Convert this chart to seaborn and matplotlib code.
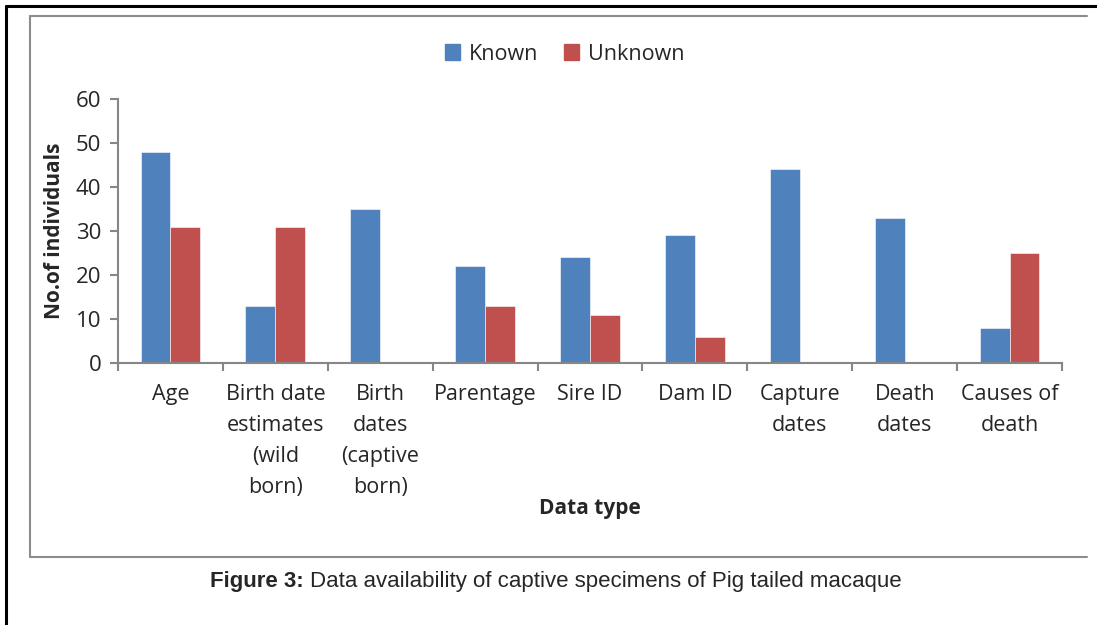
import matplotlib
matplotlib.use("Agg")
import matplotlib.pyplot as plt
from matplotlib.lines import Line2D
import seaborn as sns
import pandas as pd

categories = ["Age", "Birth date\nestimates\n(wild\nborn)", "Birth\ndates\n(captive\nborn)",
              "Parentage", "Sire ID", "Dam ID", "Capture\ndates", "Death\ndates",
              "Causes of\ndeath"]
known = [48, 13, 35, 22, 24, 29, 44, 33, 8]
unknown = [31, 31, 0, 13, 11, 6, 0, 0, 25]
series = ["Known", "Unknown"]
colors = ["#4F81BD", "#C0504D"]

df = pd.DataFrame({
    "category": categories * 2,
    "value": known + unknown,
    "series": [series[0]] * len(categories) + [series[1]] * len(categories),
})

sns.set_theme(style="white")
plt.rcParams["font.family"] = ["Open Sans", "DejaVu Sans"]

fig = plt.figure(figsize=(10.97, 6.25), dpi=100)
ax = fig.add_axes([118 / 1097, 1 - 363 / 625, (1062 - 118) / 1097, (363 - 99) / 625])

sns.barplot(data=df, x="category", y="value", hue="series", palette=colors,
            width=0.57, gap=0, ax=ax, legend=False, saturation=1,
            edgecolor="white", linewidth=0.4)

axis_grey = "#868686"
ax.set_xlim(-0.5, len(categories) - 0.5)
ax.set_ylim(0, 60)
ax.set_yticks(range(0, 61, 10))
ax.set_xticks(range(len(categories)))
ax.set_xticklabels(categories, fontsize=15.5, linespacing=1.63, va="top")
ax.set_xticks([i - 0.5 for i in range(len(categories) + 1)], minor=True)
ax.tick_params(axis="x", which="major", length=0, pad=15)
ax.tick_params(axis="x", which="minor", length=6, width=1.5, color=axis_grey, direction="out")
ax.tick_params(axis="y", length=6, width=1.5, color=axis_grey, direction="out", labelsize=16, pad=6)
ax.tick_params(bottom=True, left=True, which="both")

for side in ["top", "right"]:
    ax.spines[side].set_visible(False)
for side in ["left", "bottom"]:
    ax.spines[side].set_color(axis_grey)
    ax.spines[side].set_linewidth(1.5)

ax.set_xlabel("Data type", fontsize=15, fontweight="bold")
ax.set_ylabel("No.of individuals", fontsize=15, fontweight="bold", labelpad=8)
ax.xaxis.set_label_coords(0.5, -0.51)

handles = [plt.Rectangle((0, 0), 1, 1, color=c) for c in colors]
fig.legend(handles, series, loc="center", bbox_to_anchor=(0.515, 1 - 54 / 625), ncol=2,
           frameon=False, fontsize=15.5, handlelength=0.7, handleheight=0.7,
           handletextpad=0.4, columnspacing=1.2)

# inner chart frame (grey) and outer page frame (black)
W, H = 1097, 625
def fline(x0, y0, x1, y1, color, lw):
    fig.add_artist(Line2D([x0 / W, x1 / W], [1 - y0 / H, 1 - y1 / H],
                          transform=fig.transFigure, color=color, lw=lw))

fline(30, 16, 1087, 16, "#8c8c8c", 1.5)
fline(30, 16, 30, 557, "#8c8c8c", 1.5)
fline(30, 557, 1087, 557, "#8c8c8c", 1.5)
fline(6, 6, W, 6, "black", 2.2)
fline(6, 6, 6, H, "black", 2.2)

cap_font = ["Liberation Sans Narrow", "Liberation Sans", "DejaVu Sans"]
t1 = fig.text(0.5, 1 - 581 / 625, "Figure 3: ", fontsize=16, fontweight="bold",
              family=cap_font, ha="left", va="center")
t2 = fig.text(0.5, 1 - 581 / 625, "Data availability of captive specimens of Pig tailed macaque",
              fontsize=16, family=cap_font, ha="left", va="center")
fig.canvas.draw()
r = fig.canvas.get_renderer()
w1 = t1.get_window_extent(r).width
w2 = t2.get_window_extent(r).width
start = (W - (w1 + w2)) / 2 + 7
t1.set_x(start / W)
t2.set_x((start + w1) / W)

fig.savefig("out.png", dpi=100)
